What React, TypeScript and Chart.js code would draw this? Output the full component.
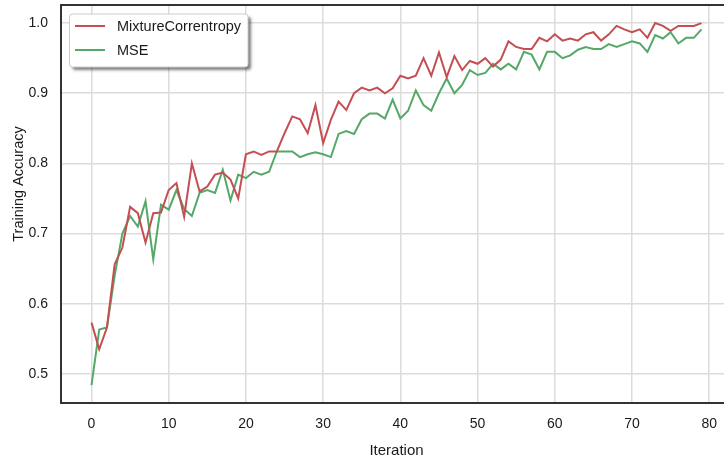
import React, { useEffect, useRef } from "react";
import { Chart, registerables } from "chart.js";

Chart.register(...registerables);

const seriesNames = ["MixtureCorrentropy", "MSE"];
const seriesColors = ["#C44E52", "#55A868"];

const mixtureCorrentropy = [
  0.573, 0.535, 0.566, 0.656, 0.68, 0.738, 0.729, 0.687, 0.729, 0.73,
  0.762, 0.772, 0.724, 0.8, 0.76, 0.767, 0.784, 0.787, 0.777, 0.75,
  0.813, 0.817, 0.812, 0.817, 0.817, 0.843, 0.867, 0.863, 0.843, 0.883,
  0.829, 0.862, 0.888, 0.876, 0.9, 0.908, 0.904, 0.908, 0.9, 0.907,
  0.925, 0.921, 0.925, 0.95, 0.925, 0.958, 0.923, 0.953, 0.933, 0.946,
  0.942, 0.95, 0.938, 0.948, 0.974, 0.966, 0.963, 0.963, 0.979, 0.974,
  0.984, 0.975, 0.978, 0.975, 0.984, 0.987, 0.975, 0.984, 0.996, 0.991,
  0.987, 0.991, 0.979, 1.0, 0.996, 0.989, 0.996, 0.996, 0.996, 1.0,
];

const mse = [
  0.484, 0.563, 0.566, 0.64, 0.7, 0.725, 0.71, 0.746, 0.663, 0.741,
  0.734, 0.762, 0.735, 0.725, 0.758, 0.762, 0.758, 0.791, 0.747, 0.784,
  0.779, 0.788, 0.784, 0.788, 0.817, 0.817, 0.817, 0.809, 0.813, 0.816,
  0.813, 0.809, 0.842, 0.846, 0.842, 0.863, 0.871, 0.871, 0.864, 0.891,
  0.864, 0.875, 0.904, 0.883, 0.875, 0.9, 0.921, 0.9, 0.912, 0.933,
  0.926, 0.929, 0.942, 0.934, 0.942, 0.934, 0.959, 0.955, 0.934, 0.959,
  0.959, 0.95, 0.954, 0.962, 0.966, 0.963, 0.963, 0.97, 0.966, 0.97,
  0.974, 0.971, 0.959, 0.983, 0.978, 0.987, 0.971, 0.979, 0.979, 0.991,
];

const xTitle = "Iteration";
const yTitle = "Training Accuracy";

const FONT = "'Liberation Sans', Arial, sans-serif";

const framePlugin = {
  id: "frameAndLegend",
  afterDraw(chart: any) {
    const { ctx, chartArea } = chart;
    const { left, right, top, bottom } = chartArea;
    ctx.save();
    // top and right spines
    ctx.strokeStyle = "#333333";
    ctx.lineWidth = 2;
    ctx.beginPath();
    ctx.moveTo(left - 1, top);
    ctx.lineTo(right, top);
    ctx.lineTo(right, bottom);
    ctx.stroke();

    // axis titles
    ctx.fillStyle = "#1a1a1a";
    ctx.font = `15px ${FONT}`;
    ctx.textAlign = "center";
    ctx.textBaseline = "alphabetic";
    ctx.fillText(xTitle, 396.5, 454.5);

    ctx.save();
    ctx.translate(22.5, 184);
    ctx.rotate(-Math.PI / 2);
    ctx.font = `14.5px ${FONT}`;
    ctx.fillText(yTitle, 0, 0);
    ctx.restore();

    // legend
    const bx = 69.5, by = 14, bw = 178.5, bh = 53, r = 3;
    ctx.save();
    ctx.shadowColor = "rgba(0,0,0,0.5)";
    ctx.shadowOffsetX = 3;
    ctx.shadowOffsetY = 3;
    ctx.shadowBlur = 3;
    ctx.fillStyle = "#ffffff";
    ctx.beginPath();
    ctx.moveTo(bx + r, by);
    ctx.lineTo(bx + bw - r, by);
    ctx.quadraticCurveTo(bx + bw, by, bx + bw, by + r);
    ctx.lineTo(bx + bw, by + bh - r);
    ctx.quadraticCurveTo(bx + bw, by + bh, bx + bw - r, by + bh);
    ctx.lineTo(bx + r, by + bh);
    ctx.quadraticCurveTo(bx, by + bh, bx, by + bh - r);
    ctx.lineTo(bx, by + r);
    ctx.quadraticCurveTo(bx, by, bx + r, by);
    ctx.closePath();
    ctx.fill();
    ctx.restore();
    ctx.strokeStyle = "#cccccc";
    ctx.lineWidth = 1;
    ctx.stroke();

    chart.data.datasets.forEach((ds: any, i: number) => {
      const y = 26 + i * 24;
      ctx.strokeStyle = ds.borderColor;
      ctx.lineWidth = 2;
      ctx.beginPath();
      ctx.moveTo(75, y);
      ctx.lineTo(105, y);
      ctx.stroke();
      ctx.fillStyle = "#1a1a1a";
      ctx.font = `14.5px ${FONT}`;
      ctx.textAlign = "left";
      ctx.textBaseline = "middle";
      ctx.fillText(ds.label, 117, y + 0.5);
    });
    ctx.restore();
  },
};

export default function App() {
  const canvasRef = useRef<HTMLCanvasElement | null>(null);

  useEffect(() => {
    if (!canvasRef.current) return;
    const toPoints = (arr: number[]) => arr.map((v, i) => ({ x: i, y: v }));
    const chart = new Chart(canvasRef.current, {
      type: "line",
      data: {
        datasets: [
          {
            label: seriesNames[0],
            data: toPoints(mixtureCorrentropy),
            borderColor: seriesColors[0],
            backgroundColor: seriesColors[0],
            borderWidth: 2,
            pointRadius: 0,
            tension: 0,
          },
          {
            label: seriesNames[1],
            data: toPoints(mse),
            borderColor: seriesColors[1],
            backgroundColor: seriesColors[1],
            borderWidth: 2,
            pointRadius: 0,
            tension: 0,
          },
        ],
      },
      options: {
        animation: false,
        responsive: false,
        devicePixelRatio: 1,
        layout: { padding: { top: 5, right: 2, left: 0, bottom: 0 } },
        plugins: {
          legend: { display: false },
          tooltip: { enabled: false },
        },
        scales: {
          x: {
            type: "linear",
            min: -3.95,
            max: 82.95,
            afterFit: (s: any) => {
              s.height = 53;
              s.paddingLeft = 0;
              s.paddingRight = 0;
            },
            ticks: {
              stepSize: 10,
              includeBounds: false,
              padding: 13,
              color: "#1a1a1a",
              font: { family: FONT, size: 14 },
              callback: (v: any) => String(v),
            },
            grid: { color: "#dcdcdc", lineWidth: 1.5, drawTicks: false },
            border: { display: true, color: "#333333", width: 2 },
          },
          y: {
            type: "linear",
            min: 0.4584,
            max: 1.0258,
            afterFit: (s: any) => {
              s.width = 61;
              s.paddingTop = 0;
              s.paddingBottom = 0;
            },
            ticks: {
              stepSize: 0.1,
              includeBounds: false,
              padding: 13,
              color: "#1a1a1a",
              font: { family: FONT, size: 14 },
              callback: (v: any) => Number(v).toFixed(1),
            },
            grid: { color: "#dcdcdc", lineWidth: 1.5, drawTicks: false },
            border: { display: true, color: "#333333", width: 2 },
          },
        },
      },
      plugins: [framePlugin],
    });
    return () => chart.destroy();
  }, []);

  return (
    <div
      style={{
        position: "fixed",
        left: 0,
        top: 0,
        width: 724,
        height: 456,
        overflow: "hidden",
        background: "#ffffff",
      }}
    >
      <canvas ref={canvasRef} width={734} height={456} style={{ width: 734, height: 456, display: "block" }} />
    </div>
  );
}
